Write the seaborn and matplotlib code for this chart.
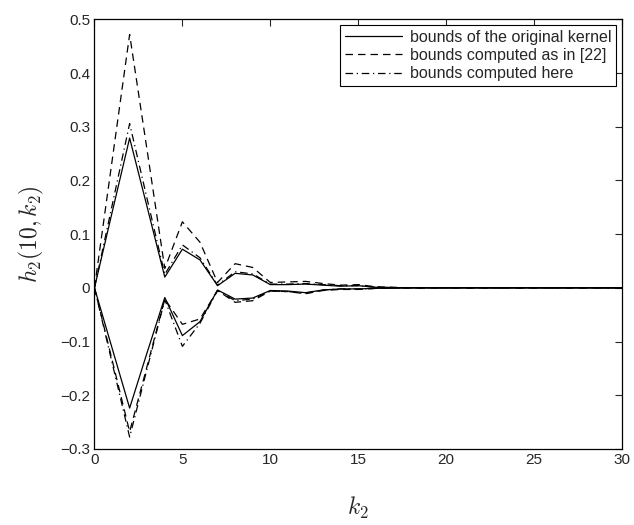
import numpy as np
import pandas as pd
import seaborn as sns
import matplotlib.pyplot as plt

# k2 = 0..30
k2 = list(range(31))

upper_orig = [0, 0.140, 0.279, 0.150, 0.020, 0.072, 0.052, 0.004, 0.027, 0.024,
              0.006, 0.006, 0.007, 0.005, 0.003, 0.004, 0.001, 0.0005] + [0] * 13
lower_orig = [0, -0.112, -0.224, -0.120, -0.018, -0.089, -0.063, -0.004, -0.021, -0.019,
              -0.005, -0.006, -0.009, -0.004, -0.002, -0.002, -0.001, -0.0005] + [0] * 13

upper_ref = [0, 0.236, 0.472, 0.255, 0.036, 0.123, 0.085, 0.010, 0.045, 0.038,
             0.010, 0.011, 0.012, 0.008, 0.005, 0.006, 0.002, 0.001] + [0] * 13
lower_ref = [0, -0.134, -0.268, -0.145, -0.021, -0.068, -0.058, -0.005, -0.027, -0.024,
             -0.006, -0.007, -0.011, -0.005, -0.003, -0.003, -0.001, -0.0005] + [0] * 13

upper_here = [0, 0.153, 0.306, 0.165, 0.025, 0.080, 0.056, 0.005, 0.030, 0.026,
              0.007, 0.007, 0.008, 0.006, 0.004, 0.004, 0.001, 0.0005] + [0] * 13
lower_here = [0, -0.139, -0.278, -0.150, -0.022, -0.109, -0.066, -0.005, -0.024, -0.021,
              -0.006, -0.007, -0.010, -0.004, -0.002, -0.002, -0.001, -0.0005] + [0] * 13

labels = ['bounds of the original kernel', 'bounds computed as in [22]', 'bounds computed here']

sns.set_style('white')
plt.rcParams['font.family'] = ['Liberation Sans', 'DejaVu Sans']
plt.rcParams['mathtext.fontset'] = 'cm'

rows = []
for lab, up, lo in zip(labels, [upper_orig, upper_ref, upper_here], [lower_orig, lower_ref, lower_here]):
    for k, u, l in zip(k2, up, lo):
        rows.append({'k2': k, 'h': u, 'series': lab, 'branch': 'upper'})
        rows.append({'k2': k, 'h': l, 'series': lab, 'branch': 'lower'})
df = pd.DataFrame(rows)

fig = plt.figure(figsize=(6.34, 5.25), dpi=100)
ax = fig.add_axes([0.149, 0.145, 0.832, 0.818])

dashes = {labels[0]: '', labels[1]: (6, 4), labels[2]: (6, 3, 1, 3)}
sns.lineplot(data=df, x='k2', y='h', style='series', units='branch', estimator=None,
             dashes=dashes, color='k', linewidth=0.9, ax=ax, legend=True)

ax.set_xlim(0, 30)
ax.set_ylim(-0.3, 0.5)
ax.set_xticks(range(0, 31, 5))
ax.set_yticks(np.round(np.arange(-0.3, 0.51, 0.1), 1))
ax.set_yticklabels(['\u22120.3', '\u22120.2', '\u22120.1', '0', '0.1', '0.2', '0.3', '0.4', '0.5'])
ax.tick_params(direction='in', top=True, right=True, length=5, width=0.8, labelsize=11, pad=3)
for s in ax.spines.values():
    s.set_color('k')
    s.set_linewidth(0.9)

ax.set_xlabel(r'$k_2$', fontsize=17, labelpad=20)
ax.set_ylabel(r'$h_2(10,k_2)$', fontsize=17, labelpad=10)

leg = ax.legend(loc='upper right', fontsize=11.5, frameon=True, fancybox=False,
                edgecolor='k', borderpad=0.3, labelspacing=0.2, handlelength=3.6,
                handletextpad=0.5, borderaxespad=0.35)
leg.get_frame().set_linewidth(0.8)
leg.get_frame().set_alpha(1)
for line in leg.get_lines():
    line.set_linewidth(0.9)

fig.savefig('out.png', dpi=100)
